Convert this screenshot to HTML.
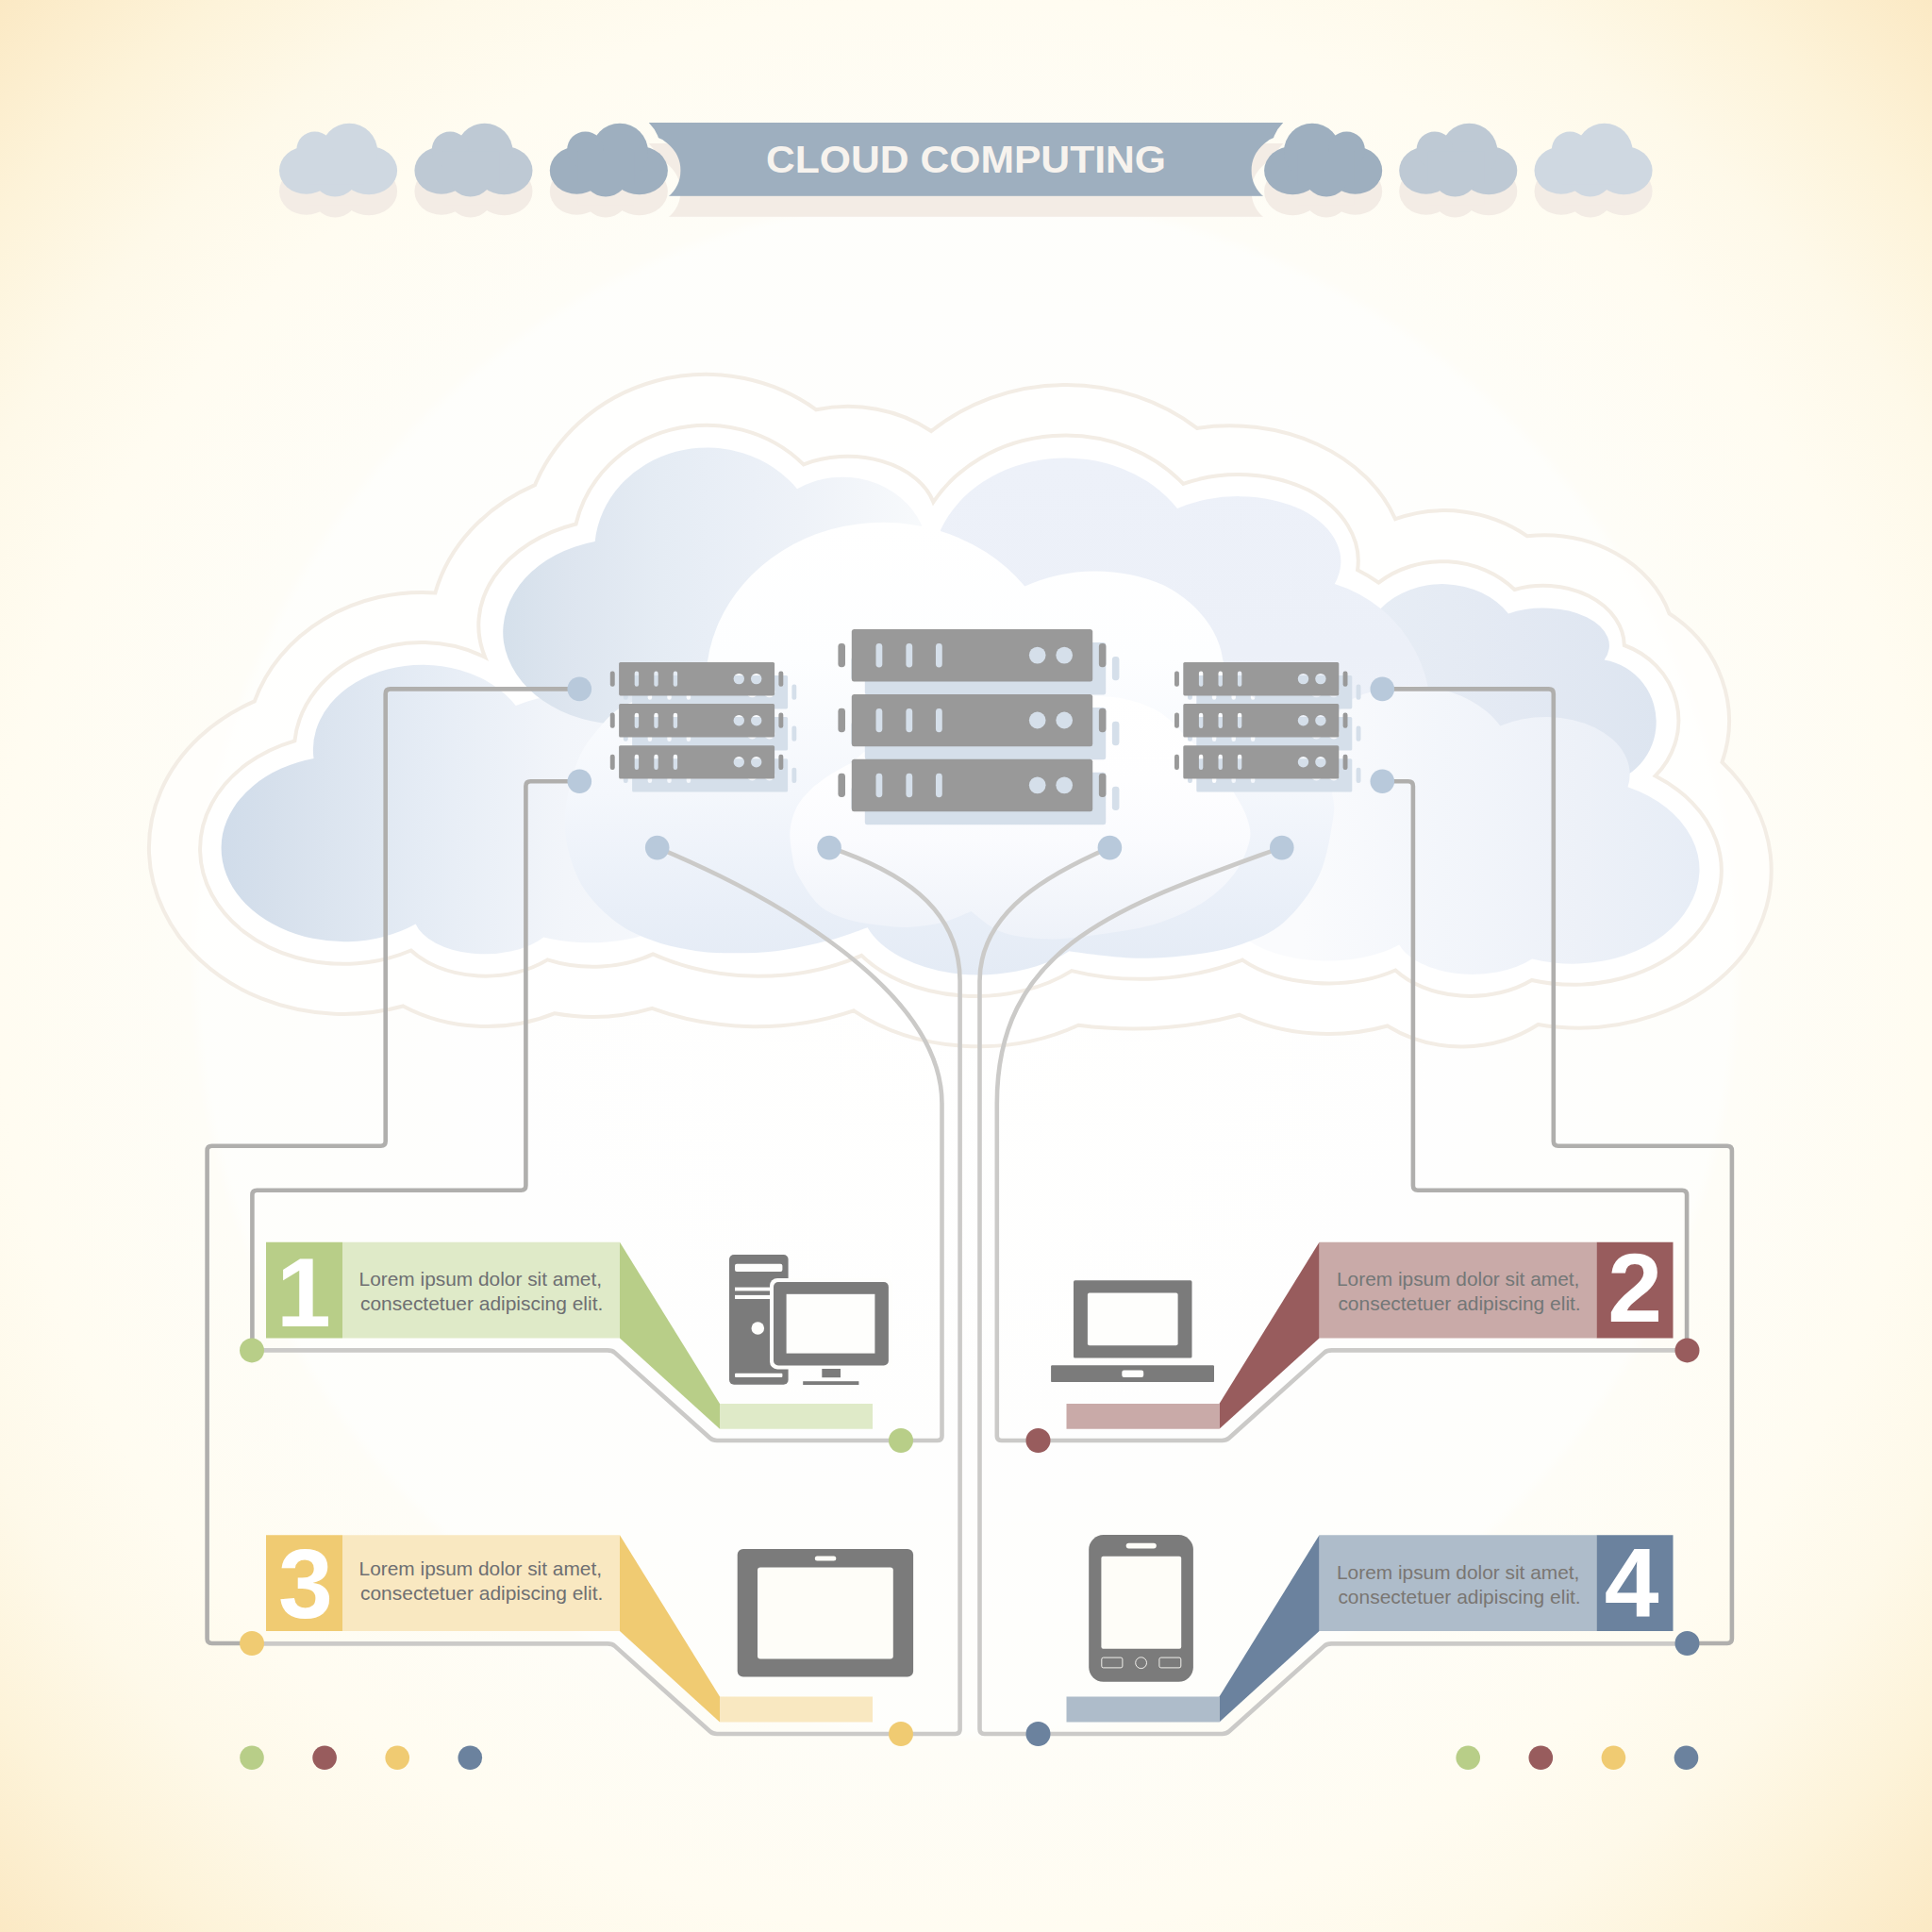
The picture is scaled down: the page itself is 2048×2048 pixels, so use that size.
<!DOCTYPE html>
<html lang="en"><head><meta charset="utf-8"><title>Cloud Computing</title>
<style>
html,body{margin:0;padding:0;background:#fffdf6;}
body{width:2048px;height:2048px;overflow:hidden;font-family:"Liberation Sans",sans-serif;}
svg{display:block;}
text{font-family:"Liberation Sans",sans-serif;}
.num{font-weight:bold;font-size:104px;fill:#fff;}
.lorem{font-size:21px;}
.title{font-weight:bold;font-size:41px;fill:#f7f3ee;}
</style></head><body>
<svg width="2048" height="2048" viewBox="0 0 2048 2048">
<defs>
<radialGradient id="bgG" gradientUnits="userSpaceOnUse" cx="1024" cy="1024" r="1448">
<stop offset="0" stop-color="#ffffff"/>
<stop offset="0.35" stop-color="#fefefc"/>
<stop offset="0.57" stop-color="#fefdf7"/>
<stop offset="0.71" stop-color="#fffcf1"/>
<stop offset="0.80" stop-color="#fef9e9"/>
<stop offset="0.895" stop-color="#fdf3d9"/>
<stop offset="1" stop-color="#fbe9c4"/>
</radialGradient>
<radialGradient id="discG" gradientUnits="userSpaceOnUse" cx="1024" cy="1024" r="824">
<stop offset="0" stop-color="#ffffff" stop-opacity="0.5"/>
<stop offset="0.985" stop-color="#ffffff" stop-opacity="0.5"/>
<stop offset="1" stop-color="#ffffff" stop-opacity="0"/>
</radialGradient>
<g id="sc">
<ellipse cx="28.6" cy="50" rx="28.6" ry="25"/>
<ellipse cx="94.9" cy="50" rx="30.2" ry="25.6"/>
<circle cx="59.2" cy="53.9" r="24"/>
<circle cx="74.2" cy="30" r="30"/>
<circle cx="37.7" cy="28.1" r="19.4"/>
<rect x="30" y="30" width="60" height="35"/>
</g>
<mask id="banM" maskUnits="userSpaceOnUse" x="600" y="100" width="900" height="200">
<rect x="600" y="100" width="900" height="200" fill="#fff"/>
<use href="#sc" transform="translate(582.8,130.7)" fill="#000" stroke="#000" stroke-width="27" stroke-linejoin="round"/>
<use href="#sc" transform="translate(1465.2,130.7) scale(-1,1)" fill="#000" stroke="#000" stroke-width="27" stroke-linejoin="round"/>
</mask>
<g id="banner" mask="url(#banM)"><rect x="650" y="130" width="750" height="77.8"/></g>
<mask id="srvM" maskUnits="userSpaceOnUse" x="-12" y="-2" width="190" height="130">
<rect x="-12" y="-2" width="190" height="130" fill="#fff"/>
<rect x="16.6" y="9.6" width="4.4" height="16.2" rx="2.2" fill="#000"/>
<rect x="37.2" y="9.6" width="4.4" height="16.2" rx="2.2" fill="#000"/>
<rect x="57.6" y="9.6" width="4.4" height="16.2" rx="2.2" fill="#000"/>
<circle cx="127.2" cy="17.6" r="5.7" fill="#000"/>
<circle cx="145.6" cy="17.6" r="5.7" fill="#000"/>
<rect x="16.6" y="53.7" width="4.4" height="16.2" rx="2.2" fill="#000"/>
<rect x="37.2" y="53.7" width="4.4" height="16.2" rx="2.2" fill="#000"/>
<rect x="57.6" y="53.7" width="4.4" height="16.2" rx="2.2" fill="#000"/>
<circle cx="127.2" cy="61.7" r="5.7" fill="#000"/>
<circle cx="145.6" cy="61.7" r="5.7" fill="#000"/>
<rect x="16.6" y="97.8" width="4.4" height="16.2" rx="2.2" fill="#000"/>
<rect x="37.2" y="97.8" width="4.4" height="16.2" rx="2.2" fill="#000"/>
<rect x="57.6" y="97.8" width="4.4" height="16.2" rx="2.2" fill="#000"/>
<circle cx="127.2" cy="105.8" r="5.7" fill="#000"/>
<circle cx="145.6" cy="105.8" r="5.7" fill="#000"/>
</mask>
<g id="srv" mask="url(#srvM)">
<rect x="0" y="0" width="165" height="35.4" rx="1.6"/>
<rect x="-9.3" y="9.5" width="4.9" height="16.2" rx="2.2"/>
<rect x="169.3" y="9.5" width="4.9" height="16.2" rx="2.2"/>
<rect x="0" y="44.1" width="165" height="35.4" rx="1.6"/>
<rect x="-9.3" y="53.6" width="4.9" height="16.2" rx="2.2"/>
<rect x="169.3" y="53.6" width="4.9" height="16.2" rx="2.2"/>
<rect x="0" y="88.2" width="165" height="35.4" rx="1.6"/>
<rect x="-9.3" y="97.7" width="4.9" height="16.2" rx="2.2"/>
<rect x="169.3" y="97.7" width="4.9" height="16.2" rx="2.2"/>
</g>
</defs>
<rect x="0" y="0" width="2048" height="2048" fill="url(#bgG)"/>
<circle cx="1024" cy="1024" r="824" fill="url(#discG)"/>
<use href="#banner" transform="translate(0,22)" fill="#f3ece5"/>
<use href="#banner" fill="#9eafbf"/>
<use href="#sc" transform="translate(296,152.7) scale(1,1)" fill="#f3ece5"/>
<use href="#sc" transform="translate(439.4,152.7) scale(1,1)" fill="#f3ece5"/>
<use href="#sc" transform="translate(582.8,152.7) scale(1,1)" fill="#f3ece5"/>
<use href="#sc" transform="translate(1465.2,152.7) scale(-1,1)" fill="#f3ece5"/>
<use href="#sc" transform="translate(1483.2,152.7) scale(1,1)" fill="#f3ece5"/>
<use href="#sc" transform="translate(1626.5,152.7) scale(1,1)" fill="#f3ece5"/>
<use href="#sc" transform="translate(296,130.7) scale(1,1)" fill="#cfd8e1"/>
<use href="#sc" transform="translate(439.4,130.7) scale(1,1)" fill="#bec9d4"/>
<use href="#sc" transform="translate(582.8,130.7) scale(1,1)" fill="#9eafbf"/>
<use href="#sc" transform="translate(1465.2,130.7) scale(-1,1)" fill="#9eafbf"/>
<use href="#sc" transform="translate(1483.2,130.7) scale(1,1)" fill="#bec9d4"/>
<use href="#sc" transform="translate(1626.5,130.7) scale(1,1)" fill="#cfd8e1"/>
<text class="title" x="1024" y="183.2" text-anchor="middle" textLength="424" lengthAdjust="spacingAndGlyphs">CLOUD COMPUTING</text>
<defs>
<linearGradient id="gA" gradientUnits="userSpaceOnUse" x1="235" y1="0" x2="720" y2="0">
<stop offset="0" stop-color="#d0dcea"/>
<stop offset="0.115" stop-color="#d6e0ec"/>
<stop offset="0.44" stop-color="#e5ecf5"/>
<stop offset="0.75" stop-color="#f2f5fa"/>
<stop offset="1" stop-color="#f6f8fc"/>
</linearGradient>
<linearGradient id="gB" gradientUnits="userSpaceOnUse" x1="533" y1="0" x2="985" y2="0">
<stop offset="0" stop-color="#d5e0eb"/>
<stop offset="0.15" stop-color="#dde5ef"/>
<stop offset="0.37" stop-color="#e5ecf4"/>
<stop offset="0.48" stop-color="#e8eef6"/>
<stop offset="0.7" stop-color="#eef2f8"/>
<stop offset="1" stop-color="#f8fafc"/>
</linearGradient>
<linearGradient id="gC" gradientUnits="userSpaceOnUse" x1="0" y1="485" x2="0" y2="900">
<stop offset="0" stop-color="#edf1f9"/>
<stop offset="0.5" stop-color="#ecf0f8"/>
<stop offset="1" stop-color="#f0f4fa"/>
</linearGradient>
<linearGradient id="gD" gradientUnits="userSpaceOnUse" x1="1460" y1="0" x2="1760" y2="0">
<stop offset="0" stop-color="#e7edf5"/>
<stop offset="0.5" stop-color="#e3e9f3"/>
<stop offset="1" stop-color="#dde5f0"/>
</linearGradient>
<linearGradient id="gE" gradientUnits="userSpaceOnUse" x1="1380" y1="0" x2="1800" y2="0">
<stop offset="0" stop-color="#fafbfd"/>
<stop offset="0.35" stop-color="#f3f6fb"/>
<stop offset="0.7" stop-color="#edf1f8"/>
<stop offset="1" stop-color="#e7edf6"/>
</linearGradient>
<linearGradient id="gF" gradientUnits="userSpaceOnUse" x1="0" y1="554" x2="0" y2="1033">
<stop offset="0" stop-color="#ffffff"/>
<stop offset="0.3" stop-color="#fdfeff"/>
<stop offset="0.6" stop-color="#f4f7fc"/>
<stop offset="0.85" stop-color="#e9eff8"/>
<stop offset="1" stop-color="#e4ebf5"/>
</linearGradient>
<linearGradient id="gG" gradientUnits="userSpaceOnUse" x1="0" y1="736" x2="0" y2="996">
<stop offset="0" stop-color="#ffffff"/>
<stop offset="0.35" stop-color="#fefeff"/>
<stop offset="0.6" stop-color="#fafbfe"/>
<stop offset="1" stop-color="#eef2f9"/>
</linearGradient>
</defs>
<path d="M269.8,743.4 A186.7,167 0 0 1 461.4,628.4 A204.1,174.4 0 0 1 567,514.2 A195.4,187.7 0 0 1 865.2,434.3 A140.7,117.9 0 0 1 987.2,457 A216.8,197.6 0 0 1 1268.9,453.9 A185.7,147.4 0 0 1 1479.1,550.2 A151.5,147.6 0 0 1 1619,568.3 A139.2,117 0 0 1 1769.6,650.5 A142.6,137 0 0 1 1825.5,808 A209.7,173.9 0 0 1 1849.4,1010.1 A209.7,173.9 0 0 1 1630.5,1086 A137.6,122.1 0 0 1 1470.7,1087.5 A172.8,125.6 0 0 1 1313.9,1075.7 A329.9,242.1 0 0 1 1143.1,1086.8 A201.3,152.3 0 0 1 904.9,1071.3 A270.6,223.1 0 0 1 691.2,1068.8 A160.7,112.6 0 0 1 588.1,1074.2 A154.3,119 0 0 1 427.3,1066.5 A205.6,174.5 0 0 1 173.6,965.6 A205.6,174.5 0 0 1 269.8,743.4 Z" fill="#ffffff" fill-opacity="0.55" stroke="#f3ede5" stroke-width="4" stroke-linejoin="miter"/>
<path d="M312.4,785.3 A132.9,114 0 0 1 386.1,693.6 A132.9,114 0 0 1 514.2,696.8 A151.1,113.3 0 0 1 610.5,555.5 A142,133.9 0 0 1 710.9,455.6 A142,133.9 0 0 1 851.8,492.4 A94.1,64.9 0 0 1 989.4,532.2 A163,144.2 0 0 1 1254.3,512.9 A131.4,93.8 0 0 1 1387,519.5 A131.4,93.8 0 0 1 1439.1,604.2 A168,168 0 0 1 1461.4,617.6 A104.4,93.9 0 0 1 1605.5,625 A85.7,64.1 0 0 1 1721.8,684 A88.9,85.1 0 0 1 1754.7,822.5 A156.9,120.5 0 0 1 1809.4,975 A156.9,120.5 0 0 1 1623.7,1039 A99.3,68.7 0 0 1 1479.2,1028.5 A120.6,71.9 0 0 1 1317,1017.6 A241.1,189.3 0 0 1 1136,1029.1 A147.4,98.9 0 0 1 913.3,1012.9 A221.8,169.7 0 0 1 692.2,1011.4 A100.6,59.5 0 0 1 580.4,1017.4 A97.3,65.6 0 0 1 435.7,1007.5 A152.2,122 0 0 1 224.5,948.3 A152.2,122 0 0 1 312.4,785.3 Z" fill="#ffffff" fill-opacity="0.6" stroke="#f3ede5" stroke-width="4" stroke-linejoin="miter"/>
<path d="M332.5,804 A115.8,90 0 0 1 410.7,709.4 A115.8,90 0 0 1 546.8,748.1 A120,105 0 0 1 720,850 L710,976.1 A90,35.6 0 0 1 576.3,993.5 A76.2,42 0 0 1 499.3,1010.5 A76.2,42 0 0 1 440.6,979.5 A129,98.7 0 0 1 296.7,983.2 A129,98.7 0 0 1 236,884.1 A129,98.7 0 0 1 332.5,804 Z" fill="url(#gA)"/>
<path d="M1463.7,644.9 A84,70 0 0 1 1599,650.6 A70.6,40 0 0 1 1682,654.2 A70.6,40 0 0 1 1700.6,699.5 A65.6,66.7 0 0 1 1755.4,771.4 A65.6,66.7 0 0 1 1690,832 L1500,800 Z" fill="url(#gD)"/>
<path d="M997,561.7 A142.5,120 0 0 1 1113.3,486.2 A142.5,120 0 0 1 1248,539 A111.8,70.5 0 0 1 1380.7,540.8 A111.8,70.5 0 0 1 1414.8,619 A144,144 0 0 1 1510,800 L1400,900 L1100,750 L1000,650 Z" fill="url(#gC)"/>
<path d="M1425,746 A108,80 0 0 1 1590.2,769.5 A90.8,61.5 0 0 1 1691,771.4 A90.8,61.5 0 0 1 1725.5,834.3 A133,96.9 0 0 1 1790.3,960.8 A133,96.9 0 0 1 1624,1016.5 A83,45 0 0 1 1542.2,1031.8 A83,45 0 0 1 1483.2,1001.5 A100,48 0 0 1 1320,994.3 L1330,900 Z" fill="url(#gE)"/>
<path d="M660,767.8 A127,99 0 0 1 533.9,680.5 A127,99 0 0 1 630.7,574 A119.7,110 0 0 1 716.4,478.8 A119.7,110 0 0 1 845,518.2 A91.5,84 0 0 1 977,556.4 L960,700 L700,760 Z" fill="url(#gB)"/>
<path d="M748.5,715 A188.2,170 0 0 1 880.3,561.3 A188.2,170 0 0 1 1086.3,621.6 A143.8,110 0 0 1 1234.5,620.8 A143.8,110 0 0 1 1297,718 L1405,790 L1412.1,841 C1412.3,845.1 1415.7,851.2 1413.4,865.7 C1411.1,880.2 1407.1,909.2 1398.4,927.8 C1389.7,946.4 1374.9,965.3 1361.2,977.5 C1347.5,989.7 1332,995.2 1316,1001 C1300,1006.8 1282.4,1009.5 1265,1012 C1247.6,1014.5 1227.2,1015.6 1211.4,1015.8 C1195.6,1016 1183,1014.3 1170,1013 C1157,1011.7 1139.5,1009 1133.4,1008.2 A129.1,75 0 0 1 1009,1031.6 A129.1,75 0 0 1 919.6,983.2 C912.7,985.5 894.3,992.9 878.1,997.1 C861.9,1001.3 840.8,1006.1 822.2,1008.3 C803.6,1010.5 781.8,1010.5 766.3,1010.2 C750.8,1009.9 741.5,1008.7 729.1,1006.5 C716.7,1004.3 704.2,1001.8 691.8,997.1 C679.4,992.4 666.3,987.2 654.5,978.5 C642.7,969.8 629.4,956.8 621,945 C612.6,933.2 607.9,920.1 604.2,907.7 C600.5,895.3 598.6,882.8 598.6,870.4 C598.6,858 601.1,845.6 604.2,833.2 C607.3,820.8 611,807.5 617.3,795.9 C623.6,784.3 634.9,771.7 642,763.7 C649.1,755.7 657,750.6 660,748 Z" fill="url(#gF)"/>
<path d="M902.9,808.4 C899.4,810.4 889.1,815.4 881.9,820.1 C874.7,824.9 865.7,831 859.5,836.9 C853.3,842.8 848.3,848.3 844.6,855.5 C840.9,862.7 838.3,871.3 837.5,880 C836.7,888.7 838.6,899.8 840,907.8 C841.4,915.8 841.2,919.3 846,928 C850.8,936.7 859.8,952.1 868.8,959.9 C877.8,967.7 889,971.5 900,975 C911,978.5 924.2,979.7 935,981 C945.8,982.3 953.9,983.4 964.7,982.8 C975.5,982.2 989.2,980.3 1000,977.5 C1010.8,974.7 1024.5,967.9 1029.4,966 C1034.6,969.6 1047.6,982.6 1060.5,987.5 C1073.4,992.4 1090.6,994.6 1107,995.3 C1123.4,995.9 1139.4,994 1158.8,991.4 C1178.2,988.8 1204.1,985.6 1223.5,979.8 C1242.9,974 1261.1,965.6 1275.3,956.5 C1289.5,947.4 1300.7,936.2 1308.9,925.4 C1317.1,914.6 1322.2,901.4 1324.4,891.8 C1326.6,882.2 1324.8,876.4 1322.2,868 C1319.6,859.6 1314.8,851.2 1308.6,841.2 C1302.4,831.2 1294.1,818.6 1285,808 C1275.9,797.4 1261.9,785.3 1253.9,777.4 C1245.9,769.5 1242.5,764.9 1236.8,760.4 C1231.1,755.9 1226.3,753.1 1219.7,750.1 C1213.1,747.1 1205,744 1197,742.1 C1189,740.2 1188.2,739.5 1172,738.5 C1155.8,737.5 1128.7,734.4 1100,736 C1071.3,737.6 1028.3,739.8 1000,748 C971.7,756.2 941.7,778.8 930,785 Z" fill="url(#gG)"/>
<g fill="none" stroke-width="4.6" stroke-linejoin="round">
<path stroke="#cbcac8" d="M696.5,898.3 C820,950 998.5,1050 998.5,1170 L998.5,1522 Q998.5,1527 993.5,1527 L760,1527 Q755.5,1527 752.5,1524.3 L652,1434.1 Q649,1431.4 644,1431.4 L267,1431.4"/>
<path stroke="#cbcac8" d="M879.3,898.3 C950,922 1017.6,960 1017.6,1040 L1017.6,1833 Q1017.6,1838 1012.6,1838 L760,1838 Q755.5,1838 752.5,1835.3 L652,1745.1 Q649,1742.4 644,1742.4 L267,1742.4"/>
<path stroke="#cbcac8" d="M1358.3,898.3 C1190,960 1056.8,1000 1056.8,1170 L1056.8,1522 Q1056.8,1527 1061.8,1527 L1295.5,1527 Q1300,1527 1303,1524.3 L1403.5,1434.1 Q1406.5,1431.4 1411.5,1431.4 L1788.5,1431.4"/>
<path stroke="#cbcac8" d="M1176.4,898.3 C1115,925 1038.5,965 1038.5,1040 L1038.5,1833 Q1038.5,1838 1043.5,1838 L1295.5,1838 Q1300,1838 1303,1835.3 L1403.5,1745.1 Q1406.5,1742.4 1411.5,1742.4 L1788.5,1742.4"/>
<path stroke="#b0afad" d="M614,730.4 L413.7,730.4 Q408.7,730.4 408.7,735.4 L408.7,1209.8 Q408.7,1214.8 403.7,1214.8 L224.6,1214.8 Q219.6,1214.8 219.6,1219.8 L219.6,1737 Q219.6,1742 224.6,1742 L267,1742"/>
<path stroke="#b0afad" d="M614,828.3 L562.4,828.3 Q557.4,828.3 557.4,833.3 L557.4,1256.7 Q557.4,1261.7 552.4,1261.7 L272.4,1261.7 Q267.4,1261.7 267.4,1266.7 L267.4,1431"/>
<path stroke="#b0afad" d="M1465,730.4 L1641.8,730.4 Q1646.8,730.4 1646.8,735.4 L1646.8,1209.8 Q1646.8,1214.8 1651.8,1214.8 L1830.9,1214.8 Q1835.9,1214.8 1835.9,1219.8 L1835.9,1737 Q1835.9,1742 1830.9,1742 L1788.5,1742"/>
<path stroke="#b0afad" d="M1465,828.3 L1492.9,828.3 Q1497.9,828.3 1497.9,833.3 L1497.9,1256.7 Q1497.9,1261.7 1502.9,1261.7 L1783.1,1261.7 Q1788.1,1261.7 1788.1,1266.7 L1788.1,1431"/>
</g>
<circle cx="614.3" cy="730.4" r="12.8" fill="#b8c9db"/>
<circle cx="614.3" cy="828.3" r="12.8" fill="#b8c9db"/>
<circle cx="1465.3" cy="730.4" r="12.8" fill="#b8c9db"/>
<circle cx="1465.3" cy="828.3" r="12.8" fill="#b8c9db"/>
<circle cx="696.7" cy="898.6" r="12.8" fill="#b8c9db"/>
<circle cx="879.1" cy="898.6" r="12.8" fill="#b8c9db"/>
<circle cx="1176.4" cy="898.6" r="12.8" fill="#b8c9db"/>
<circle cx="1358.8" cy="898.6" r="12.8" fill="#b8c9db"/>
<g transform="translate(14,14)"><use href="#srv" transform="translate(656.1,702) scale(1)" fill="#d5dfea"/></g>
<use href="#srv" transform="translate(656.1,702) scale(1)" fill="#999"/>
<g transform="translate(14,14)"><use href="#srv" transform="translate(902.8,667.1) scale(1.548,1.562)" fill="#d5dfea"/></g>
<use href="#srv" transform="translate(902.8,667.1) scale(1.548,1.562)" fill="#999"/>
<g transform="translate(14,14)"><use href="#srv" transform="translate(1254.3,702) scale(1)" fill="#d5dfea"/></g>
<use href="#srv" transform="translate(1254.3,702) scale(1)" fill="#999"/>
<path fill="#dfeac8" d="M363,1316.7 H657 V1418.5 H363 Z"/>
<path fill="#b8ce88" d="M282,1316.7 H363 V1418.5 H282 Z"/>
<path fill="#b8ce88" d="M657,1316.7 V1418.5 L763,1514.8 V1488 Z"/>
<path fill="#dfeac8" d="M763,1488 H925 V1514.8 H763 Z"/>
<path fill="#c9aaa8" d="M1692.5,1316.7 H1398.5 V1418.5 H1692.5 Z"/>
<path fill="#985c5d" d="M1773.5,1316.7 H1692.5 V1418.5 H1773.5 Z"/>
<path fill="#985c5d" d="M1398.5,1316.7 V1418.5 L1292.5,1514.8 V1488 Z"/>
<path fill="#c9aaa8" d="M1292.5,1488 H1130.5 V1514.8 H1292.5 Z"/>
<path fill="#f9e8c1" d="M363,1627.3 H657 V1729.1 H363 Z"/>
<path fill="#f0cb72" d="M282,1627.3 H363 V1729.1 H282 Z"/>
<path fill="#f0cb72" d="M657,1627.3 V1729.1 L763,1825.4 V1798.6 Z"/>
<path fill="#f9e8c1" d="M763,1798.6 H925 V1825.4 H763 Z"/>
<path fill="#aebcca" d="M1692.5,1627.3 H1398.5 V1729.1 H1692.5 Z"/>
<path fill="#6b829e" d="M1773.5,1627.3 H1692.5 V1729.1 H1773.5 Z"/>
<path fill="#6b829e" d="M1398.5,1627.3 V1729.1 L1292.5,1825.4 V1798.6 Z"/>
<path fill="#aebcca" d="M1292.5,1798.6 H1130.5 V1825.4 H1292.5 Z"/>
<text class="num" x="322" y="1406" text-anchor="middle">1</text>
<text class="num" x="1733.2" y="1401" text-anchor="middle">2</text>
<text class="num" x="324" y="1714.5" text-anchor="middle">3</text>
<text class="num" x="1729.7" y="1713.7" text-anchor="middle">4</text>
<text class="lorem" fill="#6e6f72" x="380.6" y="1362.8" textLength="257.4" lengthAdjust="spacingAndGlyphs">Lorem ipsum dolor sit amet,</text>
<text class="lorem" fill="#6e6f72" x="382" y="1388.7" textLength="257.3" lengthAdjust="spacingAndGlyphs">consectetuer adipiscing elit.</text>
<text class="lorem" fill="#737777" x="1417" y="1363.3" textLength="257.4" lengthAdjust="spacingAndGlyphs">Lorem ipsum dolor sit amet,</text>
<text class="lorem" fill="#737777" x="1418.4" y="1389.2" textLength="257.3" lengthAdjust="spacingAndGlyphs">consectetuer adipiscing elit.</text>
<text class="lorem" fill="#6e6f72" x="380.6" y="1670.4" textLength="257.4" lengthAdjust="spacingAndGlyphs">Lorem ipsum dolor sit amet,</text>
<text class="lorem" fill="#6e6f72" x="382" y="1696.3" textLength="257.3" lengthAdjust="spacingAndGlyphs">consectetuer adipiscing elit.</text>
<text class="lorem" fill="#7a7672" x="1417" y="1674.1" textLength="257.4" lengthAdjust="spacingAndGlyphs">Lorem ipsum dolor sit amet,</text>
<text class="lorem" fill="#7a7672" x="1418.4" y="1700" textLength="257.3" lengthAdjust="spacingAndGlyphs">consectetuer adipiscing elit.</text>
<circle cx="267" cy="1431.4" r="13" fill="#b8ce88"/>
<circle cx="955" cy="1527" r="13" fill="#b8ce88"/>
<circle cx="1788.5" cy="1431.4" r="13" fill="#985c5d"/>
<circle cx="1100.5" cy="1527" r="13" fill="#985c5d"/>
<circle cx="267" cy="1742" r="13" fill="#f0cb72"/>
<circle cx="955" cy="1838" r="13" fill="#f0cb72"/>
<circle cx="1788.5" cy="1742" r="13" fill="#6b829e"/>
<circle cx="1100.5" cy="1838" r="13" fill="#6b829e"/>
<circle cx="267" cy="1863.2" r="12.8" fill="#b8ce88"/>
<circle cx="1556.2" cy="1863.2" r="12.8" fill="#b8ce88"/>
<circle cx="344.1" cy="1863.2" r="12.8" fill="#985c5d"/>
<circle cx="1633.3" cy="1863.2" r="12.8" fill="#985c5d"/>
<circle cx="421.2" cy="1863.2" r="12.8" fill="#f0cb72"/>
<circle cx="1710.4" cy="1863.2" r="12.8" fill="#f0cb72"/>
<circle cx="498.3" cy="1863.2" r="12.8" fill="#6b829e"/>
<circle cx="1787.5" cy="1863.2" r="12.8" fill="#6b829e"/>
<g fill="#7b7b7b">
<rect x="773" y="1330" width="62.6" height="137.7" rx="5"/>
</g>
<g fill="#fefefc">
<rect x="779" y="1339.7" width="50.4" height="8.4" rx="2"/>
<rect x="779" y="1364.6" width="50.4" height="3.8"/>
<rect x="779" y="1372.9" width="50.4" height="4.1"/>
<rect x="779" y="1455.7" width="50.4" height="4.3" rx="1"/>
<circle cx="803.3" cy="1408" r="6.8"/>
<rect x="816" y="1355" width="130" height="96.4" rx="8"/>
</g>
<g fill="#7b7b7b">
<rect x="820" y="1359" width="121.9" height="88.4" rx="5"/>
<rect x="871.3" y="1451" width="19.7" height="9.2"/>
<rect x="851.2" y="1464.2" width="59.2" height="3.8"/>
</g>
<rect x="833.6" y="1371.8" width="93.8" height="62.8" fill="#fefefc"/>
<g fill="#7b7b7b">
<rect x="1138" y="1357.3" width="125.5" height="82.3" rx="1.6"/>
<rect x="1114.1" y="1447.2" width="172.9" height="17.9" rx="1.2"/>
</g>
<rect x="1152.9" y="1370.5" width="95.7" height="55.8" rx="2" fill="#fefefc"/>
<rect x="1189.3" y="1452.5" width="22.9" height="7.5" rx="2.2" fill="#fefefc"/>
<rect x="781.7" y="1642" width="186.4" height="135.4" rx="6" fill="#7b7b7b"/>
<rect x="803" y="1661.6" width="143.8" height="96.8" rx="3" fill="#fefdf8"/>
<rect x="863.8" y="1649.5" width="22.5" height="5" rx="2.5" fill="#fefdf8"/>
<rect x="1154.2" y="1627.1" width="110.7" height="155.6" rx="15.5" fill="#7b7b7b"/>
<rect x="1167.4" y="1649.7" width="84.8" height="98.1" rx="2" fill="#fefdf8"/>
<rect x="1193.7" y="1635.7" width="32.1" height="5.7" rx="2.85" fill="#fefdf8"/>
<g fill="none" stroke="#fefdf8" stroke-width="0.9">
<rect x="1167.8" y="1757.1" width="22.1" height="10.8" rx="1.8"/>
<rect x="1228.9" y="1757.1" width="22.9" height="10.8" rx="1.8"/>
<circle cx="1209.6" cy="1762.7" r="5.9"/>
</g>
</svg>
</body></html>
